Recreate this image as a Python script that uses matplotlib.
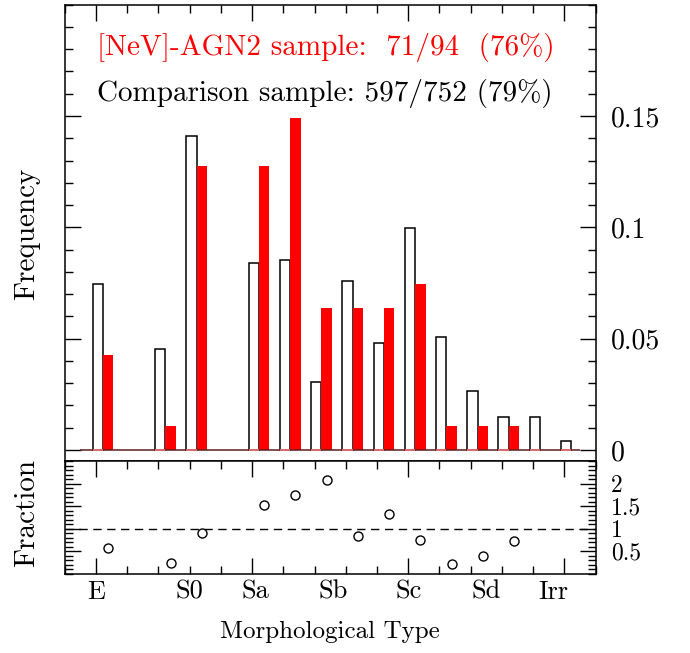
import matplotlib
matplotlib.use("Agg")
import matplotlib.pyplot as plt
import numpy as np
from matplotlib.ticker import MultipleLocator, FixedLocator, FuncFormatter

plt.rcParams['font.family'] = ['cmr10', 'DejaVu Serif']
plt.rcParams['axes.formatter.use_mathtext'] = True

# one bin per unit along the morphological type axis
type_bins = np.arange(16)
comp_counts = [56, 0, 34, 106, 0, 63, 64, 23, 57, 36, 75, 38, 20, 11, 11, 3]
nev_counts = [4, 0, 1, 12, 0, 12, 14, 6, 6, 6, 7, 1, 1, 1, 0, 0]
comp_total = 752
nev_total = 94

# NeV / comparison ratio per bin (lower panel)
frac_bins = [0, 2, 3, 5, 6, 7, 8, 9, 10, 11, 12, 13]
frac_values = [0.57, 0.24, 0.91, 1.52, 1.75, 2.09, 0.84, 1.33, 0.75, 0.21, 0.40, 0.73]

type_labels = ['E', 'S0', 'Sa', 'Sb', 'Sc', 'Sd', 'Irr']
type_pos = [0, 3, 5.1, 7.6, 10, 12.5, 14.65]

comp_freq = np.array(comp_counts) / comp_total
nev_freq = np.array(nev_counts) / nev_total

fig = plt.figure(figsize=(6.9, 6.53), dpi=100)
ax1 = fig.add_axes([0.0938, 0.294, 0.7693, 0.6988])
ax2 = fig.add_axes([0.0938, 0.121, 0.7693, 0.173])

bw = 0.333
has_comp = comp_freq > 0
has_nev = nev_freq > 0
ax1.bar(type_bins[has_comp] - 0.11, comp_freq[has_comp], width=bw, align='edge',
        facecolor='white', edgecolor='black', linewidth=1.1, zorder=2)
ax1.bar(type_bins[has_nev] + 0.223, nev_freq[has_nev], width=bw, align='edge',
        color='red', linewidth=0, zorder=2)
ax1.hlines(0, -0.5, 15.5, color='#5e1c1c', lw=1.1, zorder=3)
ax1.hlines(np.zeros(has_comp.sum()), type_bins[has_comp] - 0.11,
           type_bins[has_comp] - 0.11 + bw, color='#ff8080', lw=1.1, zorder=4)

ax1.set_xlim(-1, 16)
ax1.set_ylim(-0.005, 0.2)
ax1.xaxis.set_major_locator(MultipleLocator(5))
ax1.xaxis.set_minor_locator(MultipleLocator(1))
ax1.yaxis.set_major_locator(FixedLocator([0, 0.05, 0.1, 0.15]))
ax1.yaxis.set_minor_locator(MultipleLocator(0.01))
ax1.yaxis.set_major_formatter(FuncFormatter(lambda v, p: f"{v:g}"))
ax1.tick_params(axis='x', which='both', direction='in', top=True, bottom=False,
                labelbottom=False)
ax1.tick_params(axis='y', which='both', direction='in', left=True, right=True,
                labelleft=False, labelright=True, labelsize=20, pad=11)

ax2.plot(np.array(frac_bins) + 0.39, frac_values, 'o', mfc='none', mec='black',
         ms=6.5, mew=1.0)
ax2.axhline(1, color='black', lw=1, dashes=(6, 4))
ax2.set_xlim(-1, 16)
ax2.set_ylim(0, 2.5)
ax2.xaxis.set_major_locator(MultipleLocator(5))
ax2.xaxis.set_minor_locator(MultipleLocator(1))
ax2.yaxis.set_major_locator(FixedLocator([0.5, 1, 1.5, 2]))
ax2.yaxis.set_minor_locator(MultipleLocator(0.1))
ax2.yaxis.set_major_formatter(FuncFormatter(lambda v, p: f"{v:g}"))
ax2.tick_params(axis='x', which='both', direction='in', top=True, bottom=True,
                labelbottom=False)
ax2.tick_params(axis='y', which='both', direction='in', left=True, right=True,
                labelleft=False, labelright=True, labelsize=17, pad=11)

for ax in (ax1, ax2):
    ax.tick_params(which='major', length=11.5, width=1)
    ax.tick_params(which='minor', length=5.8, width=1)
    for sp in ax.spines.values():
        sp.set_linewidth(1.1)

for x, lab in zip(type_pos, type_labels):
    ax2.text(x, -0.16, lab, transform=ax2.get_xaxis_transform(),
             ha='center', va='center', fontsize=19)

fig.text(0.478, 1 - 632 / 653, 'Morphological Type', ha='center', va='center', fontsize=18)
fig.text(27 / 690, 1 - 234 / 653, 'Frequency', rotation=90, ha='center', va='center', fontsize=21)
fig.text(27 / 690, 1 - 513 / 653, 'Fraction', rotation=90, ha='center', va='center', fontsize=21)

fig.text(97 / 690, 1 - 47 / 653, '[NeV]-AGN2 sample:  71/94  (76%)', color='red',
         ha='left', va='center', fontsize=21)
fig.text(97 / 690, 1 - 93 / 653, 'Comparison sample: 597/752 (79%)', color='black',
         ha='left', va='center', fontsize=21)

fig.savefig('out.png', dpi=100)
